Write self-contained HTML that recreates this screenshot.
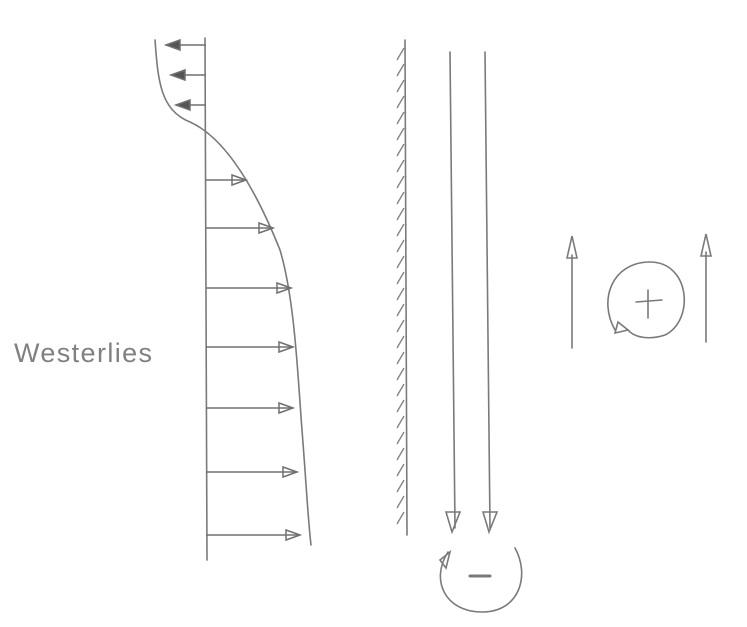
<!DOCTYPE html>
<html><head><meta charset="utf-8"><style>
body{margin:0;background:#fff;width:747px;height:627px;overflow:hidden}
svg{display:block}
</style></head><body>
<svg width="747" height="627" viewBox="0 0 747 627" id="sk">
<g stroke="#7a7a7a" fill="none" stroke-width="1.6" stroke-linecap="round">
<line x1="205" y1="38" x2="207" y2="560"/>
<path d="M155,40 C158,80 160,110 190,122 C230,140 260,200 280,250 C295,300 298,380 302,430 C306,480 308,520 311,545"/>
<line x1="405" y1="40" x2="407" y2="535"/>
<line x1="450" y1="52" x2="455" y2="528"/>
<line x1="485" y1="52" x2="490" y2="528"/>
<path d="M448,552 C430,580 445,612 482,612 C520,612 530,575 515,548"/>
<line x1="470" y1="576" x2="490" y2="576" stroke-width="3"/>
<line x1="572" y1="255" x2="572" y2="348"/>
<line x1="706" y1="252" x2="706" y2="342"/>
<path d="M615,330 C598,300 612,262 650,262 C690,262 695,320 665,335 C650,340 635,338 628,330"/>
<line x1="648" y1="290" x2="648" y2="318"/>
<line x1="636" y1="302" x2="662" y2="300"/>
<path d="M567,258 L572,236 L577,258 Z"/>
<path d="M701,256 L706,234 L711,256 Z"/>
<path d="M446,512 L452,532 L460,512 Z"/>
<path d="M483,512 L489,532 L497,512 Z"/>
<path d="M440,560 L450,552 L446,568 Z"/>
<path d="M615,333 L628,330 L618,322 Z"/>
</g>
<g id="hatch" stroke="#808080" stroke-width="1.3"></g>
<g id="arrows" stroke="#707070" stroke-width="1.5" fill="none"></g>
<text x="14" y="362" font-family="Liberation Sans, sans-serif" font-size="27" fill="#808080" textLength="138">Westerlies</text>
</svg>
<script>
// wind profile: y positions (sketch rows) and wind speed (arrow tip x)
const rowsY=[45,75,105,180,228,288,347,408,472,535];
const windSpeed=[-40,-35,-30,40,67,85,87,87,91,94];
const ns="http://www.w3.org/2000/svg";
const ag=document.getElementById('arrows');
rowsY.forEach((y,i)=>{
  const x0=206, x1=x0+windSpeed[i];
  const l=document.createElementNS(ns,'line');
  l.setAttribute('x1',x0);l.setAttribute('y1',y);l.setAttribute('x2',x1);l.setAttribute('y2',y);
  
  
  ag.appendChild(l);
  const d=windSpeed[i]>0?-1:1;
  const h=document.createElementNS(ns,'path');
  h.setAttribute('d',`M${x1},${y} L${x1+d*14},${y-5} L${x1+d*14},${y+5} Z`);
  h.setAttribute('fill',windSpeed[i]>0?'none':'#555');
  
  
  ag.appendChild(h);
});
const hg=document.getElementById('hatch');
for(let y=48;y<520;y+=16){
  const l=document.createElementNS(ns,'line');
  l.setAttribute('x1',404);l.setAttribute('y1',y);l.setAttribute('x2',397);l.setAttribute('y2',y+12);
  
  
  hg.appendChild(l);
}
</script>
</body></html>
